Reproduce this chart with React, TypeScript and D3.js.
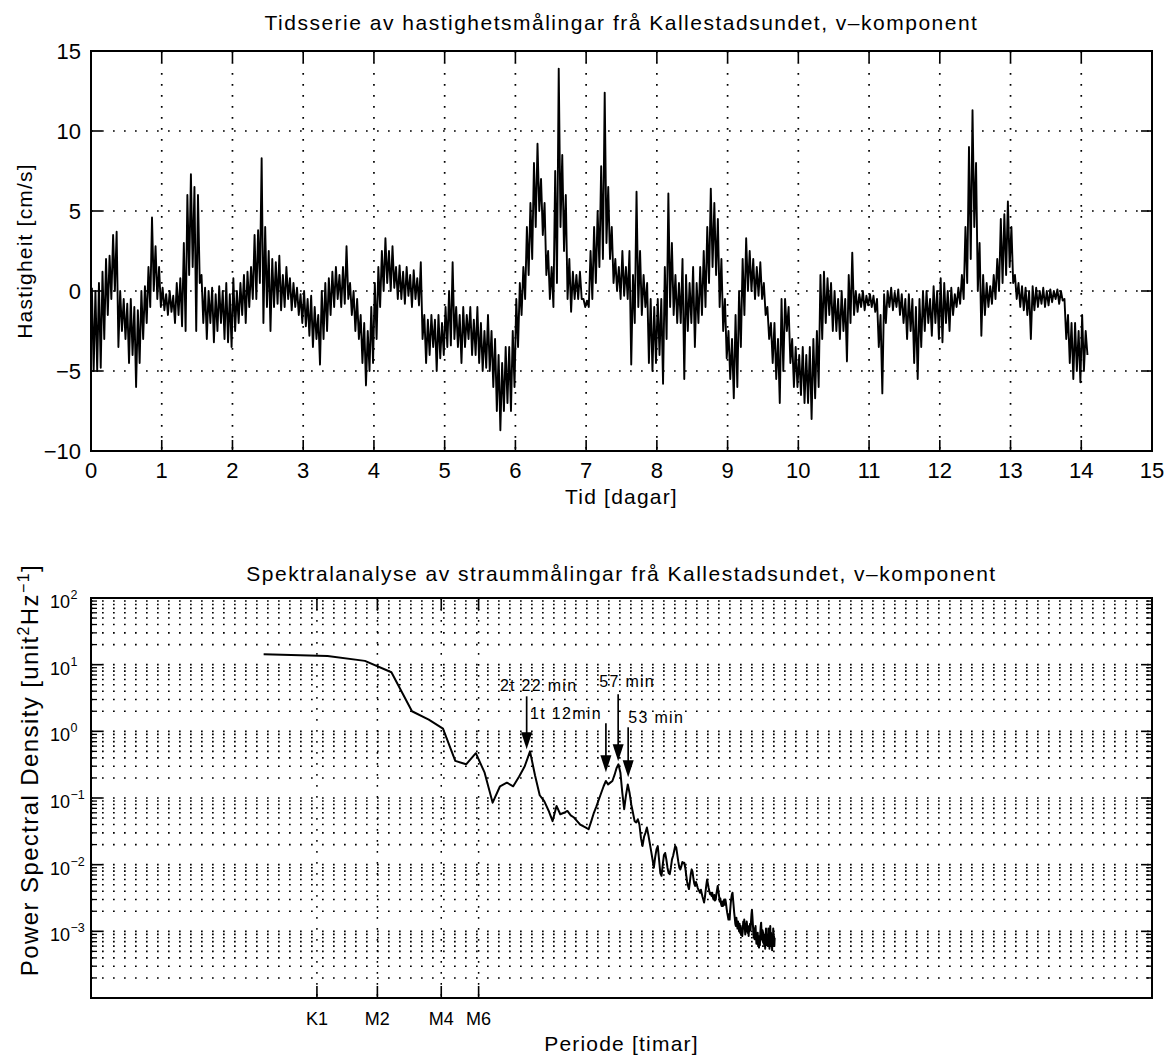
import React from 'react';
import * as d3 from 'd3';

// ---------------- DATA ----------------
// Time series (v-component), envelope per 0.05 day bin
const binWidthDays = 0.05;
const velocityHigh = [
  0.2,0.0,0.5,1.2,2.0,2.2,3.5,3.7,0.0,-0.5,-0.8,-0.5,-1.0,-1.2,0.0,0.3,1.5,4.6,2.8,1.5,
  0.2,-0.2,0.0,-0.3,0.5,0.8,3.0,6.0,7.3,6.5,6.0,1.0,0.2,0.0,0.2,-0.2,0.3,0.0,0.5,-0.2,
  0.8,0.0,0.5,1.0,1.2,1.5,3.5,3.8,8.3,4.0,2.5,2.0,1.8,2.2,1.0,1.5,0.8,0.5,0.2,-0.2,
  0.0,-0.5,-0.3,-1.0,-1.5,0.0,0.5,0.8,1.2,1.5,1.0,1.5,2.8,0.5,0.0,-0.5,-1.5,-2.0,-2.5,-1.0,
  0.5,1.5,2.5,3.3,2.5,2.8,1.5,1.6,1.2,1.5,1.0,1.3,0.8,1.8,-1.5,-1.8,-1.5,-1.8,-1.5,-2.0,
  -1.0,0.0,1.8,-1.0,-1.5,-1.0,-1.5,-1.0,-1.8,-1.0,-2.0,-2.5,-1.5,-2.5,-3.0,-4.0,-4.5,-3.5,-3.5,-2.5,
  -0.5,0.5,1.5,4.0,5.5,8.0,9.2,7.0,5.5,2.5,1.5,7.5,13.9,8.5,6.0,2.0,1.2,1.0,1.2,-0.5,
  -0.6,2.5,4.0,5.0,7.8,12.4,6.5,4.0,2.0,1.5,2.5,1.5,2.5,1.0,6.2,2.5,1.0,0.5,-0.5,-1.0,
  -0.5,-0.5,1.5,6.1,3.0,1.0,0.5,2.0,1.0,0.5,1.5,0.5,1.5,2.5,4.0,6.4,5.5,4.5,2.0,-0.5,
  -2.5,-3.0,-1.5,0.0,2.0,3.3,2.5,2.0,1.5,1.8,0.5,-1.0,-2.0,-2.0,-3.0,-0.5,-0.5,-1.0,-3.0,-3.5,
  -4.0,-3.5,-4.0,-3.5,-3.0,-2.5,1.0,1.2,0.8,0.5,0.0,-0.5,0.0,-0.5,1.0,2.4,0.0,-0.2,0.0,-0.3,
  -0.2,-0.3,-0.5,-1.5,-0.2,0.0,0.2,-0.1,0.1,-0.2,-0.5,-0.2,-0.5,-1.0,-0.5,0.0,0.0,-0.5,0.3,0.0,
  0.8,0.5,0.0,0.2,-0.2,0.2,1.0,4.0,9.0,11.3,8.0,3.0,1.0,0.5,0.3,1.0,2.0,4.5,4.8,5.6,
  4.0,1.0,0.5,0.3,0.2,0.0,0.3,0.2,0.0,0.2,0.0,0.1,0.0,0.1,0.0,-0.5,-1.5,-2.0,-2.0,-2.5,
  -1.5,-2.5,
];
const velocityLow = [
  -5.0,-5.0,-4.8,-3.0,-1.5,-0.5,0.0,-3.5,-2.5,-3.0,-4.5,-4.0,-6.0,-4.5,-3.0,-2.0,-1.0,0.0,-0.5,-1.0,
  -1.2,-1.5,-1.3,-2.0,-1.5,-2.2,-2.5,1.0,1.5,-2.5,0.5,-2.0,-3.0,-2.0,-3.2,-2.5,-2.0,-3.0,-3.2,-3.5,
  -2.5,-2.0,-1.5,-2.0,-1.0,-0.5,-0.5,0.5,-2.0,-1.0,-2.5,-1.0,-0.8,-1.2,-1.0,-0.5,-1.2,-1.0,-1.5,-2.0,
  -2.2,-2.8,-3.5,-3.0,-4.6,-3.0,-2.5,-1.5,-1.0,-0.5,-1.0,-0.8,-0.5,-1.5,-2.5,-3.0,-4.5,-5.9,-5.0,-4.5,
  -3.0,-1.0,0.0,0.5,0.0,0.2,-0.5,-0.5,-0.8,-0.3,-1.0,-0.5,-0.9,-3.0,-4.5,-4.0,-3.5,-5.0,-4.2,-4.0,
  -3.5,-3.4,-3.0,-3.5,-4.5,-3.5,-3.0,-4.0,-4.0,-4.5,-5.0,-4.8,-5.0,-6.0,-7.5,-8.7,-7.5,-7.0,-7.5,-6.0,
  -3.5,-1.5,-0.5,1.0,2.0,4.0,5.0,3.5,1.0,-0.5,-1.0,0.5,4.0,2.5,-0.5,-1.3,-0.5,-0.5,-0.5,-1.0,
  -1.0,-0.5,0.5,1.5,2.0,3.0,2.0,0.5,0.0,-0.5,-0.3,-0.5,-4.6,-2.0,-1.0,-1.5,-1.0,-4.5,-5.0,-4.5,
  -4.0,-5.8,-3.0,-1.0,-1.5,-2.0,-2.0,-5.5,-2.5,-2.0,-3.5,-2.0,-1.5,-1.0,0.5,1.5,1.0,-1.0,-2.5,-4.2,
  -5.5,-6.7,-6.0,-3.5,-1.5,0.0,0.0,-0.5,-0.3,-0.5,-1.5,-3.0,-4.5,-5.5,-7.0,-5.0,-2.5,-4.5,-6.0,-6.0,
  -6.5,-7.0,-7.0,-8.0,-6.7,-6.0,-3.0,-2.0,-1.5,-2.5,-2.5,-3.0,-2.5,-4.4,-2.0,-1.5,-1.3,-1.0,-1.2,-0.9,
  -1.0,-1.3,-3.5,-6.4,-2.0,-1.0,-1.2,-1.0,-1.5,-2.0,-3.0,-2.5,-4.5,-5.5,-3.5,-2.5,-2.0,-2.8,-2.0,-3.0,
  -3.2,-2.0,-2.5,-1.5,-1.0,-0.8,-0.5,0.5,2.0,4.0,0.0,-2.8,-1.5,-1.0,-0.8,-0.5,0.0,0.5,1.0,1.5,
  0.5,-0.5,-1.0,-1.2,-1.5,-3.0,-1.2,-1.0,-0.8,-1.0,-0.9,-0.7,-0.5,-0.8,-0.6,-3.0,-4.5,-5.5,-5.0,-5.7,
  -5.0,-4.0,
];
const dayTicks = [0,1,2,3,4,5,6,7,8,9,10,11,12,13,14,15];
const velocityTicks = [-10,-5,0,5,10,15];

// Spectrum: frequency step (Hz) and PSD values for k = 1..256
const psdFreqStep = 1 / (512 * 300);
const psdValues = [
  14.3,13.5,11.4,7.7,2.0,1.5,1.1,0.36,0.32,0.47,
  0.24,0.085,0.15,0.17,0.15,0.21,0.30,0.50,0.22,0.11,
  0.09,0.065,0.045,0.076,0.057,0.06,0.064,0.055,0.051,0.045,
  0.04,0.038,0.036,0.034,0.045,0.06,0.075,0.095,0.12,0.15,
  0.18,0.16,0.17,0.18,0.22,0.28,0.32,0.24,0.12,0.068,
  0.11,0.16,0.12,0.08,0.06,0.045,0.043,0.048,0.04,0.025,
  0.019,0.026,0.03,0.036,0.028,0.021,0.016,0.012,0.009,0.013,
  0.017,0.019,0.012,0.0075,0.0068,0.010,0.014,0.015,0.012,0.009,
  0.0075,0.0072,0.009,0.012,0.0135,0.016,0.019,0.018,0.014,0.011,
  0.009,0.0085,0.0095,0.011,0.0105,0.0107,0.009,0.007,0.0055,0.0048,
  0.0043,0.0055,0.0072,0.0085,0.0078,0.0062,0.0052,0.0048,0.0055,0.0050,
  0.0045,0.0042,0.0040,0.0038,0.0042,0.0037,0.0033,0.0030,0.0027,0.0032,
  0.0040,0.0050,0.0060,0.0052,0.0045,0.0040,0.0036,0.0038,0.0034,0.0038,
  0.0032,0.0030,0.0035,0.0029,0.0030,0.0036,0.0042,0.0048,0.0040,0.0034,
  0.0028,0.0031,0.0026,0.0024,0.0028,0.0024,0.0027,0.0030,0.0025,0.0030,
  0.0026,0.0022,0.0019,0.0017,0.0015,0.0018,0.0015,0.0021,0.0027,0.0032,
  0.0036,0.0038,0.0030,0.0024,0.0019,0.0016,0.0013,0.0012,0.0016,0.0013,
  0.0011,0.0014,0.0012,0.0010,0.0013,0.00095,0.0012,0.00088,0.0011,0.00085,
  0.0010,0.0014,0.0011,0.0015,0.0012,0.0009,0.0013,0.0010,0.0014,0.0012,
  0.00095,0.0011,0.00085,0.0012,0.0010,0.0013,0.00105,0.0014,0.0018,0.0021,
  0.0017,0.0013,0.0010,0.0008,0.0011,0.00076,0.0009,0.0012,0.00085,0.00065,
  0.0009,0.0007,0.00095,0.0006,0.00085,0.00057,0.0008,0.00062,0.00095,0.0012,
  0.00135,0.001,0.00075,0.00105,0.0007,0.00095,0.00065,0.0009,0.0006,0.0008,
  0.00055,0.00085,0.0011,0.00068,0.0009,0.00062,0.00085,0.0006,0.0011,0.0007,
  0.0009,0.00055,0.0008,0.0012,0.0007,0.00095,0.0006,0.0008,0.00052,0.0009,
  0.00065,0.0011,0.0007,0.00085,0.0006,0.0008,
];
const psdExponents = [2,1,0,-1,-2,-3];
const tidalNames = ['K1','M2','M4','M6'];
const tidalPeriodsHours = [23.934, 12.4206, 6.2103, 4.1402];
const peakLabels = ['2t 22 min','1t 12min','57 min','53 min'];
const peakFreqHz = [1.13e-4, 2.67e-4, 3.05e-4, 3.40e-4];
const peakTipPsd = [0.54, 0.243, 0.355, 0.204];
const peakTailPsd = [3.35, 1.32, 3.6, 1.15];

// ---------------- LAYOUT ----------------
const FONT = '"Liberation Sans", Arial, Helvetica, sans-serif';
const topBox = { l: 91, r: 1152, t: 51, b: 451 };
const botBox = { l: 91, r: 1152, t: 598, b: 998 };
const labelDx = [12, -4, 9, 28];
const labelAnchor = ['middle', 'end', 'middle', 'middle'];
const labelDy = [-5, -4, -7, -4];
const DOT = '1.7 9.3';

export default function App() {
  const x1 = d3.scaleLinear().domain([0, 15]).range([topBox.l, topBox.r]);
  const y1 = d3.scaleLinear().domain([-10, 15]).range([topBox.b, topBox.t]);
  const x2 = d3.scaleLog().domain([1e-6, 1e-1]).range([botBox.l, botBox.r]);
  const y2 = d3.scaleLog().domain([1e-4, 1e2]).range([botBox.b, botBox.t]);

  const tsPoints: [number, number][] = [];
  velocityHigh.forEach((hi, i) => {
    const t0 = i * binWidthDays;
    tsPoints.push([t0 + binWidthDays * 0.25, hi]);
    tsPoints.push([t0 + binWidthDays * 0.75, velocityLow[i]]);
  });
  const tsLine = d3.line<[number, number]>().x(d => x1(d[0])).y(d => y1(d[1]));

  const psdPoints: [number, number][] = psdValues.map((v, i) => [(i + 1) * psdFreqStep, v]);
  const psdLine = d3.line<[number, number]>().x(d => x2(d[0])).y(d => y2(d[1]));

  const minorLevels: number[] = [];
  for (let e = -4; e <= 1; e++) for (let m = 2; m <= 9; m++) minorLevels.push(m * Math.pow(10, e));
  const decadeLevels = [1e-4, 1e-3, 1e-2, 1e-1, 1, 10, 100];

  const tidalX = tidalPeriodsHours.map(p => x2(1 / (p * 3600)));

  const txt = { fontFamily: FONT, fill: '#000' } as React.CSSProperties;

  return (
    <svg width={1169} height={1057} style={{ position: 'absolute', left: 0, top: 0, background: '#fff' }}>
      <rect x={0} y={0} width={1169} height={1057} fill="#fff" />
      {/* ===== TOP PLOT ===== */}
      <text x={(topBox.l + topBox.r) / 2} y={30} textAnchor="middle" fontSize={21} style={{ ...txt, letterSpacing: '1.5px' }}>
        Tidsserie av hastighetsmålingar frå Kallestadsundet, v–komponent
      </text>
      {dayTicks.slice(1, -1).map(d => (
        <line key={'gx' + d} x1={x1(d)} x2={x1(d)} y1={topBox.t} y2={topBox.b} stroke="#000" strokeWidth={1.7} strokeDasharray={DOT} />
      ))}
      {velocityTicks.slice(1, -1).map(v => (
        <line key={'gy' + v} x1={topBox.l} x2={topBox.r} y1={y1(v)} y2={y1(v)} stroke="#000" strokeWidth={1.7} strokeDasharray={DOT} />
      ))}
      <path d={tsLine(tsPoints) || ''} fill="none" stroke="#000" strokeWidth={1.9} strokeLinejoin="round" />
      {dayTicks.map(d => (
        <g key={'tx' + d}>
          <line x1={x1(d)} x2={x1(d)} y1={topBox.b} y2={topBox.b - 11} stroke="#000" strokeWidth={1.6} />
          <line x1={x1(d)} x2={x1(d)} y1={topBox.t} y2={topBox.t + 11} stroke="#000" strokeWidth={1.6} />
          <text x={x1(d)} y={478} textAnchor="middle" fontSize={22} style={txt}>{d}</text>
        </g>
      ))}
      {velocityTicks.map(v => (
        <g key={'ty' + v}>
          <line x1={topBox.l} x2={topBox.l + 11} y1={y1(v)} y2={y1(v)} stroke="#000" strokeWidth={1.6} />
          <line x1={topBox.r} x2={topBox.r - 11} y1={y1(v)} y2={y1(v)} stroke="#000" strokeWidth={1.6} />
          <text x={81} y={y1(v) + 8} textAnchor="end" fontSize={22} style={txt}>{v < 0 ? '\u2212' + Math.abs(v) : v}</text>
        </g>
      ))}
      <rect x={topBox.l} y={topBox.t} width={topBox.r - topBox.l} height={topBox.b - topBox.t} fill="none" stroke="#000" strokeWidth={2} />
      <text x={(topBox.l + topBox.r) / 2} y={504} textAnchor="middle" fontSize={21} style={{ ...txt, letterSpacing: '1.2px' }}>Tid [dagar]</text>
      <text transform={`translate(32, ${(topBox.t + topBox.b) / 2}) rotate(-90)`} textAnchor="middle" fontSize={21} style={{ ...txt, letterSpacing: '1.2px' }}>
        Hastigheit [cm/s]
      </text>

      {/* ===== BOTTOM PLOT ===== */}
      <text x={(botBox.l + botBox.r) / 2} y={581} textAnchor="middle" fontSize={21} style={{ ...txt, letterSpacing: '1.5px' }}>
        Spektralanalyse av straummålingar frå Kallestadsundet, v–komponent
      </text>
      {decadeLevels.concat(minorLevels).filter(v => v > 1e-4 && v < 100).map((v, i) => (
        <line key={'hg' + i} x1={botBox.l} x2={botBox.r} y1={y2(v)} y2={y2(v)} stroke="#000" strokeWidth={1.6} strokeDasharray={DOT} />
      ))}
      {tidalX.map((x, i) => (
        <line key={'vg' + i} x1={x} x2={x} y1={botBox.t} y2={botBox.b} stroke="#000" strokeWidth={1.5} strokeDasharray={DOT} />
      ))}
      <path d={psdLine(psdPoints) || ''} fill="none" stroke="#000" strokeWidth={2} strokeLinejoin="round" />
      {decadeLevels.map((v, i) => (
        <g key={'yt' + i}>
          <line x1={botBox.l} x2={botBox.l + 11} y1={y2(v)} y2={y2(v)} stroke="#000" strokeWidth={1.6} />
          <line x1={botBox.r} x2={botBox.r - 11} y1={y2(v)} y2={y2(v)} stroke="#000" strokeWidth={1.6} />
        </g>
      ))}
      {minorLevels.map((v, i) => (
        <g key={'ym' + i}>
          <line x1={botBox.l} x2={botBox.l + 6} y1={y2(v)} y2={y2(v)} stroke="#000" strokeWidth={1.3} />
          <line x1={botBox.r} x2={botBox.r - 6} y1={y2(v)} y2={y2(v)} stroke="#000" strokeWidth={1.3} />
        </g>
      ))}
      {psdExponents.map(e => (
        <text key={'yl' + e} x={50} y={y2(Math.pow(10, e)) + 10} textAnchor="start" fontSize={18} style={txt}>
          10
          <tspan dx={0.5} dy={-9} fontSize={12.5}>{e < 0 ? '\u2212' + Math.abs(e) : e}</tspan>
        </text>
      ))}
      {tidalX.map((x, i) => (
        <g key={'xt' + i}>
          <line x1={x} x2={x} y1={botBox.b} y2={botBox.b - 12} stroke="#000" strokeWidth={1.6} />
          <line x1={x} x2={x} y1={botBox.t} y2={botBox.t + 12} stroke="#000" strokeWidth={1.6} />
          <text x={x} y={1025} textAnchor="middle" fontSize={18} style={txt}>{tidalNames[i]}</text>
        </g>
      ))}
      {peakLabels.map((lab, i) => {
        const x = x2(peakFreqHz[i]);
        const yTip = y2(peakTipPsd[i]);
        const yTail = y2(peakTailPsd[i]);
        return (
          <g key={'pk' + i}>
            <line x1={x} x2={x} y1={yTail} y2={yTip - 14} stroke="#000" strokeWidth={1.7} />
            <path d={`M${x - 5.5},${yTip - 17} L${x + 5.5},${yTip - 17} L${x},${yTip} Z`} fill="#000" />
            <text x={x + labelDx[i]} y={yTail + labelDy[i]} textAnchor={labelAnchor[i] as any} fontSize={16} style={{ ...txt, letterSpacing: '1.3px' }}>{lab}</text>
          </g>
        );
      })}
      <rect x={botBox.l} y={botBox.t} width={botBox.r - botBox.l} height={botBox.b - botBox.t} fill="none" stroke="#000" strokeWidth={2} />
      <text x={(botBox.l + botBox.r) / 2} y={1051} textAnchor="middle" fontSize={21} style={{ ...txt, letterSpacing: '1.2px' }}>Periode [timar]</text>
      <text transform={`translate(38, 770) rotate(-90)`} textAnchor="middle" fontSize={24} style={{ ...txt, letterSpacing: '1.4px' }}>
        Power Spectral Density [unit
        <tspan dy={-9} fontSize={16}>2</tspan>
        <tspan dy={9}>Hz</tspan>
        <tspan dy={-9} fontSize={16}>−1</tspan>
        <tspan dy={9}>]</tspan>
      </text>
    </svg>
  );
}
